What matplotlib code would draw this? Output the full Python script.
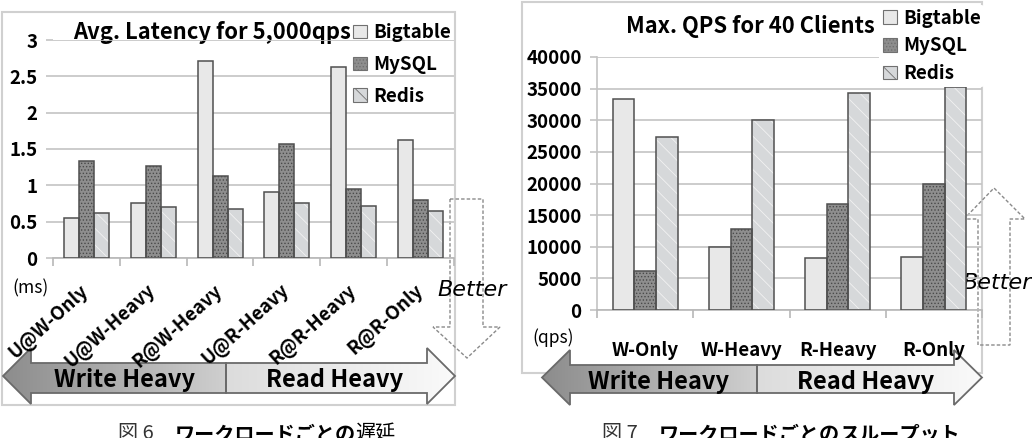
import numpy as np
import matplotlib.pyplot as plt
from matplotlib.patches import Polygon, Rectangle
from matplotlib.colors import LinearSegmentedColormap

plt.rcParams['font.family'] = ['Noto Sans CJK JP', 'DejaVu Sans']
plt.rcParams['hatch.linewidth'] = 0.6

# data
series = ['Bigtable', 'MySQL', 'Redis']
lat_cats = ['U@W-Only', 'U@W-Heavy', 'R@W-Heavy', 'U@R-Heavy', 'R@R-Heavy', 'R@R-Only']
lat_bigtable = [0.55, 0.76, 2.71, 0.91, 2.63, 1.63]
lat_mysql = [1.34, 1.26, 1.13, 1.57, 0.95, 0.80]
lat_redis = [0.62, 0.70, 0.68, 0.76, 0.72, 0.64]

qps_cats = ['W-Only', 'W-Heavy', 'R-Heavy', 'R-Only']
qps_bigtable = [33400, 10000, 8300, 8400]
qps_mysql = [6200, 12800, 16800, 20000]
qps_redis = [27300, 30000, 34300, 35200]

W, H = 1032, 438
fig = plt.figure(figsize=(W / 100, H / 100), dpi=100)

# overlay axes in pixel coords (y down) for frames, arrows, captions
ov = fig.add_axes([0, 0, 1, 1])
ov.set_xlim(0, W)
ov.set_ylim(H, 0)
ov.axis('off')
ov.set_zorder(0)


def px_axes(x0, y0, x1, y1):
    ax = fig.add_axes([x0 / W, 1 - y1 / H, (x1 - x0) / W, (y1 - y0) / H])
    ax.set_zorder(1)
    ax.set_facecolor('none')
    return ax


styles = [
    dict(color='#e8e8e8', hatch=None, hcolor=None),
    dict(color='#8e8e8e', hatch='.....', hcolor='#4a4a4a'),
    dict(color='#d6d8da', hatch='\\\\', hcolor='#f2f2f2'),
]


def draw_bars(ax, cats, vals, ymax, yticks, bw=0.225):
    x = np.arange(len(cats))
    handles = []
    for i, (v, st) in enumerate(zip(vals, styles)):
        xs = x + (i - 1) * bw
        if st['hatch']:
            ax.bar(xs, v, bw, color=st['color'], edgecolor=st['hcolor'],
                   hatch=st['hatch'], linewidth=0, zorder=2)
        else:
            ax.bar(xs, v, bw, color=st['color'], linewidth=0, zorder=2)
        ax.bar(xs, v, bw, facecolor='none', edgecolor='#505050', linewidth=1.1, zorder=3)
        handles.append(Rectangle((0, 0), 1, 1, facecolor=st['color'], edgecolor='#707070',
                                 hatch=st['hatch'], linewidth=0.8))
    ax.set_xlim(-0.5, len(cats) - 0.5)
    ax.set_ylim(0, ymax)
    ax.set_yticks(yticks)
    ax.grid(axis='y', color='#c4c4c4', linewidth=1.2, zorder=0)
    ax.set_axisbelow(True)
    for s in ['top', 'right', 'left']:
        ax.spines[s].set_visible(False)
    ax.spines['bottom'].set_color('#b8b8b8')
    ax.spines['bottom'].set_linewidth(1.2)
    ax.tick_params(axis='y', length=5, color='#c4c4c4', width=1.2, labelsize=13.5, pad=6)
    ax.set_xticks(np.arange(len(cats) + 1) - 0.5, minor=True)
    ax.tick_params(axis='x', which='minor', length=6, color='#b8b8b8', width=1.2)
    ax.tick_params(axis='x', which='major', length=0)
    return handles


def place_legend(ax, handles, x, y, spacing, **kw):
    return ax.legend(handles, series, loc='upper left', bbox_to_anchor=(x, y),
                     bbox_transform=ov.transData, handlelength=0.75, handleheight=0.75,
                     handletextpad=0.35, labelspacing=spacing, borderaxespad=0,
                     prop={'weight': 'bold', 'size': 13.5}, **kw)


# frames
ov.add_patch(Rectangle((2, 12), 453, 393, facecolor='white', edgecolor='#d0d0d0', linewidth=1.5))
ov.add_patch(Rectangle((522, 2), 460, 371, facecolor='white', edgecolor='#d0d0d0', linewidth=1.5))

# left chart: latency
ax1 = px_axes(53, 40, 454, 258)
h = draw_bars(ax1, lat_cats, [lat_bigtable, lat_mysql, lat_redis], 3, [0, 0.5, 1, 1.5, 2, 2.5, 3])
ax1.set_yticklabels(['0', '0.5', '1', '1.5', '2', '2.5', '3'], fontweight='bold')
ax1.set_xticks(np.arange(len(lat_cats)))
ax1.set_xticklabels(lat_cats, rotation=42, ha='right', va='center', rotation_mode='anchor',
                    fontsize=13.5, fontweight='bold')
ax1.tick_params(axis='x', which='major', pad=22)
ov.text(212, 32, 'Avg. Latency for 5,000qps', fontsize=15.8, fontweight='bold',
        ha='center', va='center', zorder=4)
place_legend(ax1, h, 353, 23, 0.69, frameon=False, borderpad=0)
ov.text(30, 288, '(ms)', fontsize=12.5, ha='center', va='center')

# right chart: max qps
ax2 = px_axes(597, 57, 982, 310)
h = draw_bars(ax2, qps_cats, [qps_bigtable, qps_mysql, qps_redis], 40000,
              list(range(0, 40001, 5000)))
for t in ax2.get_yticklabels():
    t.set_fontweight('bold')
ax2.spines['left'].set_visible(True)
ax2.spines['left'].set_color('#c4c4c4')
ax2.spines['left'].set_linewidth(1.2)
ax2.set_xticks(np.arange(len(qps_cats)))
ax2.set_xticklabels(qps_cats, fontsize=13.5, fontweight='bold')
ax2.tick_params(axis='x', which='major', pad=22)
ov.text(750, 27, 'Max. QPS for 40 Clients', fontsize=15.8, fontweight='bold',
        ha='center', va='center', zorder=4)
place_legend(ax2, h, 879, 5, 0.46, frameon=True, edgecolor='none', facecolor='white',
             framealpha=1, borderpad=0.2)
ov.text(553, 338, '(qps)', fontsize=12.5, ha='center', va='center')


def gradient_poly(pts, c0, c1, x0, x1, y0, y1):
    poly = Polygon(pts, closed=True, facecolor='none', edgecolor='#6a6a6a', linewidth=1.3, zorder=3)
    ov.add_patch(poly)
    g = np.linspace(0, 1, 256).reshape(1, -1)
    cmap = LinearSegmentedColormap.from_list('g', [c0, c1])
    im = ov.imshow(g, cmap=cmap, extent=(x0, x1, y1, y0), aspect='auto', zorder=2)
    im.set_clip_path(poly)
    ov.set_xlim(0, W)
    ov.set_ylim(H, 0)


def workload_arrow(xl, xr, xs, yt, yb, bt, bb, hw):
    left = [(xl, (yt + yb) / 2), (xl + hw, yt), (xl + hw, bt), (xs, bt), (xs, bb), (xl + hw, bb), (xl + hw, yb)]
    right = [(xs, bt), (xr - hw, bt), (xr - hw, yt), (xr, (yt + yb) / 2), (xr - hw, yb), (xr - hw, bb), (xs, bb)]
    gradient_poly(left, '#8c8c8c', '#cfcfcf', xl, xs, yt, yb)
    gradient_poly(right, '#dcdcdc', '#fafafa', xs, xr, yt, yb)


workload_arrow(3, 455, 226, 348, 404, 363, 393, 28)
ov.text(125, 380, 'Write Heavy', fontsize=17, fontweight='bold', ha='center', va='center', zorder=4)
ov.text(335, 380, 'Read Heavy', fontsize=17, fontweight='bold', ha='center', va='center', zorder=4)

workload_arrow(542, 982, 757, 350, 405, 365, 393, 28)
ov.text(658, 382, 'Write Heavy', fontsize=17, fontweight='bold', ha='center', va='center', zorder=4)
ov.text(866, 382, 'Read Heavy', fontsize=17, fontweight='bold', ha='center', va='center', zorder=4)

# "Better" arrows
down = [(450, 199), (483, 199), (483, 327), (500, 327), (467, 358), (433, 327), (450, 327)]
up = [(978, 345), (978, 219), (964, 219), (994, 188), (1025, 219), (1010, 219), (1010, 345)]
for pts in (down, up):
    ov.add_patch(Polygon(pts, closed=True, facecolor='none', edgecolor='#8a8a8a',
                         linewidth=1.0, linestyle=(0, (2.5, 1.5)), zorder=5))
ov.text(472, 290, 'Better', fontsize=16, style='italic', family='DejaVu Sans',
        ha='center', va='center', zorder=6)
ov.text(997, 283, 'Better', fontsize=16, style='italic', family='DejaVu Sans',
        ha='center', va='center', zorder=6)

# captions (cut off at the bottom edge like the reference)
for x, num, tail in ((118, '6', '遅延'), (602, '7', 'スループット')):
    t1 = ov.text(x, 423, f'図 {num}', fontsize=14.5, ha='left', va='top', color='#333333')
    t2 = ov.annotate('ワークロードごとの', xy=(1, 1), xycoords=t1, xytext=(15, 0),
                     textcoords='offset points', fontsize=14.5, fontweight='bold',
                     ha='left', va='top')
    ov.annotate(tail, xy=(1, 1), xycoords=t2, fontsize=14.5, ha='left', va='top',
                fontweight='normal' if num == '6' else 'bold')

fig.savefig('out.png', dpi=100)
